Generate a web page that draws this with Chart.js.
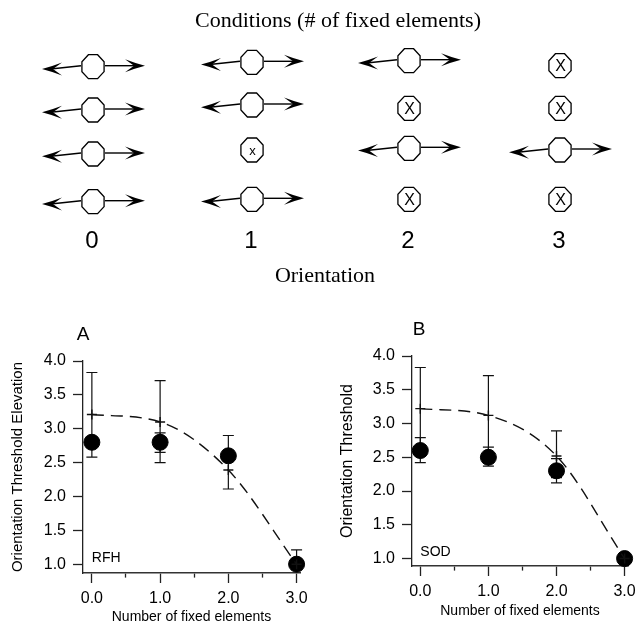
<!DOCTYPE html>
<html>
<head>
<meta charset="utf-8">
<title>Orientation threshold vs number of fixed elements</title>
<script src="https://cdn.jsdelivr.net/npm/chart.js@4.4.1/dist/chart.umd.min.js"></script>
<style>
  html, body { margin: 0; padding: 0; background: #fff; }
  body { width: 636px; height: 626px; position: relative; overflow: hidden; }
  canvas { position: absolute; display: block; }
  #diagram { left: 0; top: 0; }
  #chartA { left: 0; top: 300px; }
  #chartB { left: 318px; top: 300px; }
</style>
</head>
<body>
<canvas id="diagram" width="636" height="300"></canvas>
<canvas id="chartA" width="318" height="326"></canvas>
<canvas id="chartB" width="330" height="326"></canvas>
<script>
// 数据
const xValues = [0, 1, 2, 3];
const xTicks = [0, 0.5, 1, 1.5, 2, 2.5, 3];
const yTicks = [1.0, 1.5, 2.0, 2.5, 3.0, 3.5, 4.0];

// RFH (panel A)
const rfhObserved = [2.8, 2.8, 2.6, 1.0];
const rfhObservedLow = [null, 2.65, 2.11, 1.0];
const rfhObservedHigh = [null, 2.94, 2.9, 1.21];
const rfhPredicted = [3.21, 3.1, 2.39, 1.0];
const rfhPredictedLow = [2.58, 2.5, null, null];
const rfhPredictedHigh = [3.83, 3.71, null, null];

// SOD (panel B)
const sodObserved = [2.6, 2.5, 2.3, 1.0];
const sodObservedLow = [2.42, 2.37, 2.12, null];
const sodObservedHigh = [2.79, 2.65, 2.48, null];
const sodPredicted = [3.22, 3.12, 2.52, 1.0];
const sodPredictedLow = [2.61, 2.53, 2.2, null];
const sodPredictedHigh = [3.83, 3.71, 2.89, null];

// 上方示意图：每列四个元素，1 = 固定 (X)
const conditionLabels = ['0', '1', '2', '3'];
const fixedPattern = [
    [0, 0, 0, 0],
    [0, 0, 1, 0],
    [0, 1, 0, 1],
    [1, 1, 0, 1]
];

const FONT_SANS = '"Liberation Sans", Arial, Helvetica, sans-serif';
const FONT_SERIF = '"Liberation Serif", "Times New Roman", serif';

/**
 * 画上方的条件示意图
 */
function drawDiagram() {
    const ctx = document.getElementById('diagram').getContext('2d');
    const colX = [93, 252, 409, 560];
    const rowY = [
        [66.7, 110, 154, 201.7],
        [62.3, 105, 150, 199.3],
        [60.7, 108.3, 148.3, 199.3],
        [65.7, 108.3, 150, 199.3]
    ];
    const rx = 12, ry = 13;
    const headLen = 20, headHalf = 6.5, notch = 0.55;

    ctx.fillStyle = '#000';
    ctx.strokeStyle = '#000';
    ctx.textAlign = 'center';
    ctx.textBaseline = 'middle';
    ctx.font = '22px ' + FONT_SERIF;
    ctx.fillText('Conditions (# of fixed elements)', 338, 21);

    function octagon(cx, cy) {
        ctx.beginPath();
        for (let i = 0; i < 8; i++) {
            const a = Math.PI / 8 + i * Math.PI / 4;
            const px = cx + rx * Math.cos(a), py = cy + ry * Math.sin(a);
            if (i === 0) ctx.moveTo(px, py); else ctx.lineTo(px, py);
        }
        ctx.closePath();
        ctx.fillStyle = '#fff';
        ctx.fill();
        ctx.lineWidth = 1.3;
        ctx.stroke();
        ctx.fillStyle = '#000';
    }

    function head(tx, ty, dir) {
        ctx.beginPath();
        ctx.moveTo(tx, ty);
        ctx.quadraticCurveTo(tx - dir * headLen * 0.5, ty - headHalf * 0.4, tx - dir * headLen, ty - headHalf);
        ctx.lineTo(tx - dir * headLen * notch, ty);
        ctx.lineTo(tx - dir * headLen, ty + headHalf);
        ctx.quadraticCurveTo(tx - dir * headLen * 0.5, ty + headHalf * 0.4, tx, ty);
        ctx.closePath();
        ctx.fill();
    }

    fixedPattern.forEach((col, c) => {
        col.forEach((fixed, r) => {
            const cx = colX[c], cy = rowY[c][r];
            if (!fixed) {
                // 左箭头（略微倾斜）和右箭头
                ctx.lineWidth = 1.4;
                ctx.beginPath();
                ctx.moveTo(cx - rx, cy - 1);
                ctx.lineTo(cx - 51 + headLen * notch, cy + 2);
                ctx.stroke();
                head(cx - 51, cy + 2.3, -1);
                ctx.beginPath();
                ctx.moveTo(cx + rx, cy - 1);
                ctx.lineTo(cx + 52 - headLen * notch, cy - 1);
                ctx.stroke();
                head(cx + 52, cy - 1, 1);
            }
            octagon(cx, cy);
            if (fixed) {
                ctx.font = (c === 1 ? '13px ' : '16px ') + FONT_SANS;
                ctx.fillText(c === 1 ? 'x' : 'X', cx + 0.5, cy + 1);
            }
        });
        ctx.font = '24px ' + FONT_SANS;
        ctx.fillText(conditionLabels[c], colX[c] - 1, 241);
    });

    ctx.font = '22px ' + FONT_SERIF;
    ctx.fillText('Orientation', 325, 276);
}

// 误差线插件
const errorBarPlugin = {
    id: 'errorBars',
    beforeDatasetsDraw(chart) {
        const ctx = chart.ctx;
        const xScale = chart.scales.x, yScale = chart.scales.y;
        ctx.save();
        ctx.strokeStyle = '#111';
        ctx.lineWidth = 1.2;
        chart.data.datasets.forEach(ds => {
            if (!ds.errorLow) return;
            ds.data.forEach((pt, i) => {
                const lo = ds.errorLow[i], hi = ds.errorHigh[i];
                if (lo == null && hi == null) return;
                const px = xScale.getPixelForValue(pt.x);
                const yLo = yScale.getPixelForValue(lo == null ? pt.y : lo);
                const yHi = yScale.getPixelForValue(hi == null ? pt.y : hi);
                ctx.beginPath();
                ctx.moveTo(px, yLo);
                ctx.lineTo(px, yHi);
                if (lo != null && lo !== pt.y) { ctx.moveTo(px - 5.5, yLo); ctx.lineTo(px + 5.5, yLo); }
                if (hi != null && hi !== pt.y) { ctx.moveTo(px - 5.5, yHi); ctx.lineTo(px + 5.5, yHi); }
                ctx.stroke();
            });
        });
        ctx.restore();
    }
};

// 面板字母与被试标签
const panelTextPlugin = {
    id: 'panelText',
    afterDraw(chart, args, opts) {
        const ctx = chart.ctx;
        const area = chart.chartArea;
        ctx.save();
        ctx.fillStyle = '#000';
        ctx.textBaseline = 'middle';
        ctx.textAlign = 'center';
        ctx.font = '19px ' + FONT_SANS;
        ctx.fillText(opts.letter, area.left + opts.letterDx, area.top - 26);
        ctx.textAlign = 'left';
        ctx.font = '14px ' + FONT_SANS;
        ctx.fillText(opts.subject, chart.scales.x.getPixelForValue(0), chart.scales.y.getPixelForValue(1.09));
        ctx.restore();
    }
};

function toPoints(values) {
    return values.map((v, i) => ({ x: xValues[i], y: v }));
}

function isMinor(v) {
    return Math.abs(v - Math.round(v)) > 1e-6;
}

/**
 * 创建一个面板
 */
function makePanel(id, p) {
    const ctx = document.getElementById(id).getContext('2d');
    return new Chart(ctx, {
        type: 'scatter',
        data: {
            datasets: [
                {
                    label: 'Predicted',
                    data: toPoints(p.predicted),
                    errorLow: p.predictedLow,
                    errorHigh: p.predictedHigh,
                    showLine: true,
                    cubicInterpolationMode: 'monotone',
                    borderColor: '#111',
                    borderWidth: 1.4,
                    borderDash: [12, 7],
                    pointStyle: 'cross',
                    pointRadius: 5,
                    pointBorderWidth: 1.4,
                    pointBorderColor: '#111',
                    clip: false
                },
                {
                    label: p.subject,
                    data: toPoints(p.observed),
                    errorLow: p.observedLow,
                    errorHigh: p.observedHigh,
                    showLine: false,
                    pointStyle: 'circle',
                    pointRadius: 8,
                    backgroundColor: '#000',
                    borderColor: '#000',
                    clip: false
                }
            ]
        },
        options: {
            responsive: false,
            animation: false,
            events: [],
            layout: { padding: p.padding },
            plugins: {
                legend: { display: false },
                tooltip: { enabled: false },
                panelText: { letter: p.letter, letterDx: p.letterDx, subject: p.subject }
            },
            scales: {
                x: {
                    type: 'linear',
                    min: p.xMin,
                    max: 3.05,
                    afterBuildTicks: s => { s.ticks = xTicks.map(v => ({ value: v })); },
                    afterFit: s => { s.height = p.xHeight; },
                    border: { display: true, color: '#333', width: 1.6 },
                    grid: {
                        drawOnChartArea: false,
                        drawTicks: true,
                        tickLength: 10,
                        tickColor: '#222',
                        tickWidth: 1.3,
                        tickBorderDash: c => (c.tick && isMinor(c.tick.value)) ? [4, 40] : []
                    },
                    ticks: {
                        color: '#000',
                        font: { size: 16 },
                        padding: 6,
                        maxRotation: 0,
                        autoSkip: false,
                        callback: v => isMinor(v) ? '' : v.toFixed(1)
                    },
                    title: {
                        display: true,
                        text: 'Number of fixed elements',
                        color: '#000',
                        font: { size: 14 },
                        padding: { top: 0, bottom: p.xTitlePad }
                    }
                },
                y: {
                    type: 'linear',
                    min: p.yMin,
                    max: 4.0,
                    afterBuildTicks: s => { s.ticks = yTicks.map(v => ({ value: v })); },
                    afterFit: s => { s.width = p.yWidth; },
                    border: { display: true, color: '#222', width: 1.3 },
                    grid: {
                        drawOnChartArea: false,
                        drawTicks: true,
                        tickLength: 10,
                        tickColor: '#222',
                        tickWidth: 1.3
                    },
                    ticks: {
                        color: '#000',
                        font: { size: 16 },
                        padding: 7,
                        callback: v => v.toFixed(1)
                    },
                    title: {
                        display: true,
                        text: p.yTitle,
                        color: '#000',
                        font: { size: p.yTitleSize },
                        padding: { top: p.yTitlePad, bottom: 0 }
                    }
                }
            }
        },
        plugins: [errorBarPlugin, panelTextPlugin]
    });
}

Chart.defaults.font.family = FONT_SANS;

drawDiagram();

makePanel('chartA', {
    letter: 'A', letterDx: 0, subject: 'RFH',
    observed: rfhObserved, observedLow: rfhObservedLow, observedHigh: rfhObservedHigh,
    predicted: rfhPredicted, predictedLow: rfhPredictedLow, predictedHigh: rfhPredictedHigh,
    padding: { top: 61, right: 18, left: 0, bottom: 0 },
    xMin: -0.13, yMin: 0.87, xHeight: 53, yWidth: 83,
    xTitlePad: 0, yTitle: 'Orientation Threshold Elevation', yTitleSize: 15, yTitlePad: 9
});

makePanel('chartB', {
    letter: 'B', letterDx: 7, subject: 'SOD',
    observed: sodObserved, observedLow: sodObservedLow, observedHigh: sodObservedHigh,
    predicted: sodPredicted, predictedLow: sodPredictedLow, predictedHigh: sodPredictedHigh,
    padding: { top: 56, right: 20, left: 0, bottom: 0 },
    xMin: -0.122, yMin: 0.89, xHeight: 60, yWidth: 94,
    xTitlePad: 6, yTitle: 'Orientation Threshold', yTitleSize: 16, yTitlePad: 20
});
</script>
</body>
</html>
